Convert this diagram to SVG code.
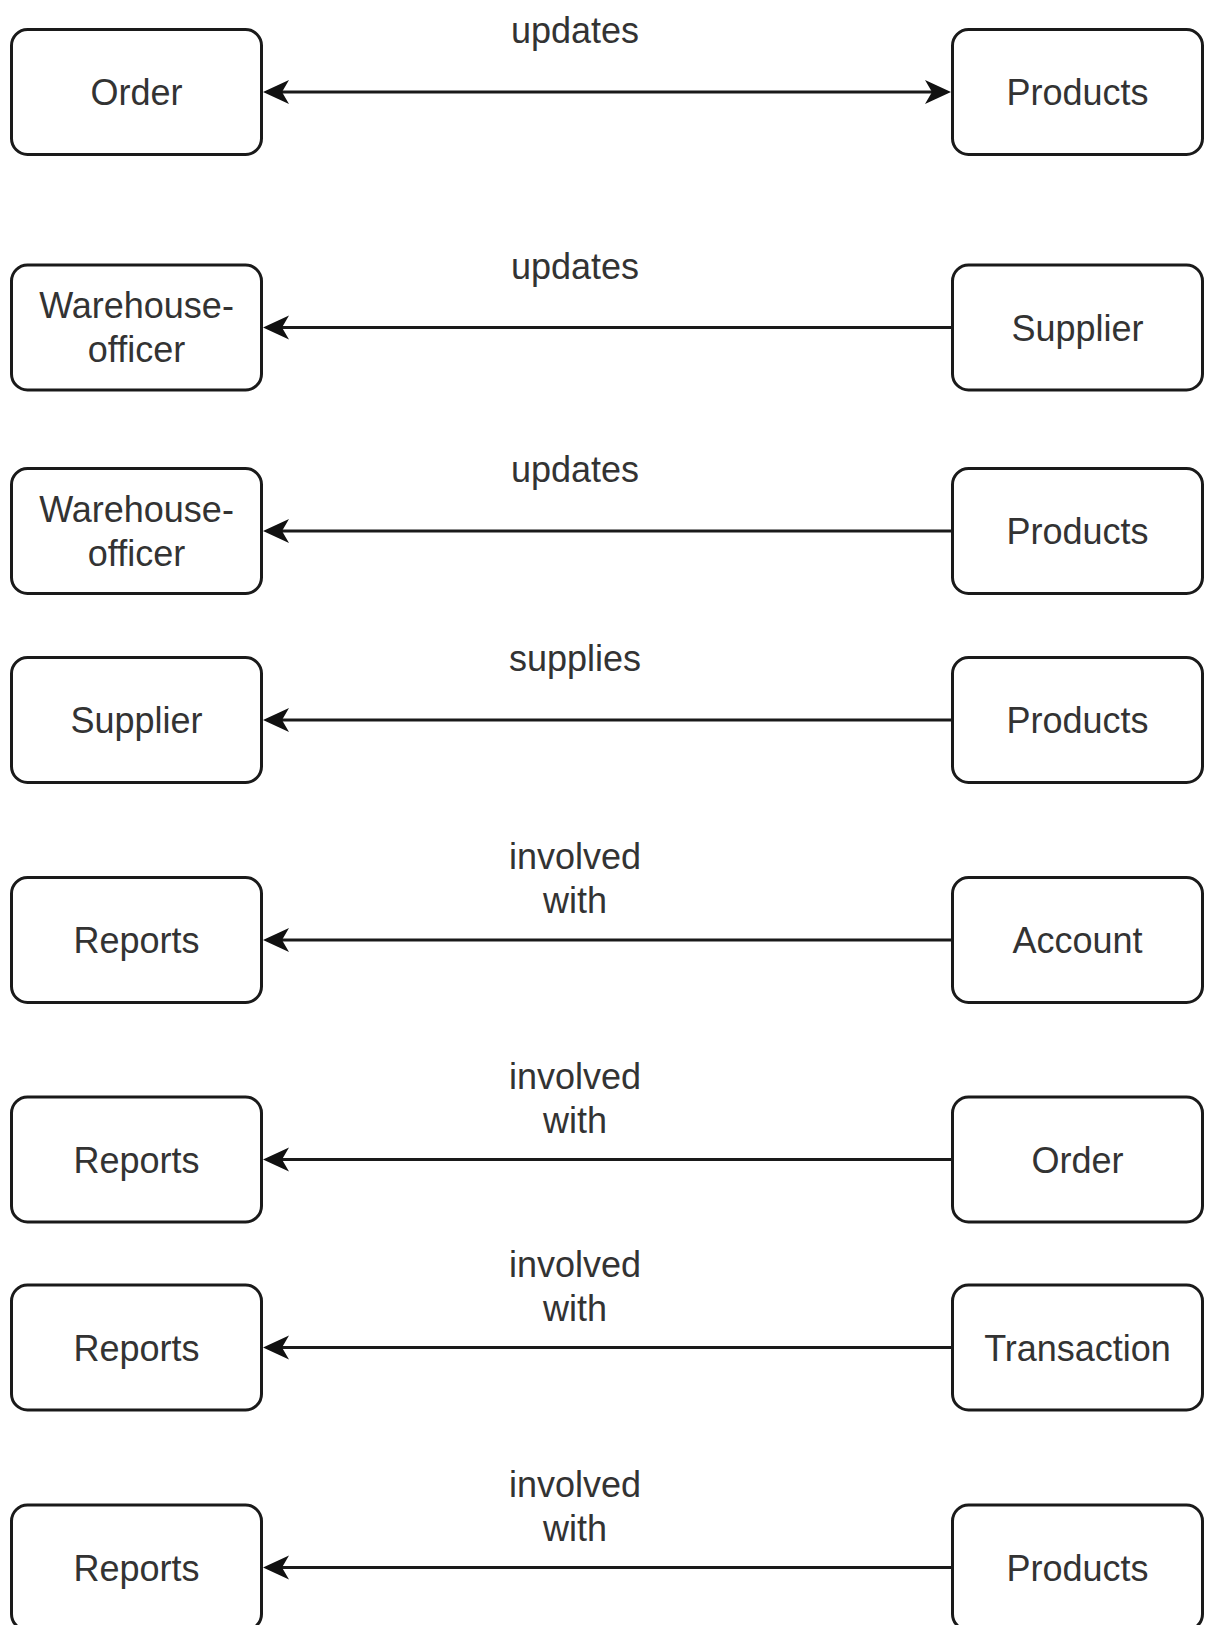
<svg xmlns="http://www.w3.org/2000/svg" width="1205" height="1625" viewBox="0 0 1205 1625">
  <style>
    .box { fill: #ffffff; stroke: #1a1a1a; stroke-width: 3; }
    .txt { font-family: "Liberation Sans", Arial, sans-serif; font-size: 36px; fill: #333333; text-anchor: middle; }
    .edge { fill: none; stroke: #1a1a1a; stroke-width: 3; }
  </style>
  <defs>
    <!-- classic notched arrowhead; reference point is the notch, tip 19px ahead -->
    <marker id="arrow" markerUnits="userSpaceOnUse" viewBox="-8 -13 28 26" refX="0" refY="0" markerWidth="28" markerHeight="26" orient="auto-start-reverse">
      <path d="M19,0 L-7,-12 L0,0 L-7,12 Z" fill="#111111"/>
    </marker>
  </defs>
  <rect width="1205" height="1625" fill="#ffffff"/>

  <!-- connectors -->
  <g id="connectors">
    <g id="e1">
      <line class="edge" x1="282" y1="92" x2="932" y2="92" marker-start="url(#arrow)" marker-end="url(#arrow)"/>
      <text class="txt" x="575" y="43">updates</text>
    </g>
    <g id="e2">
      <line class="edge" x1="951" y1="327.5" x2="282" y2="327.5" marker-end="url(#arrow)"/>
      <text class="txt" x="575" y="278.5">updates</text>
    </g>
    <g id="e3">
      <line class="edge" x1="951" y1="531" x2="282" y2="531" marker-end="url(#arrow)"/>
      <text class="txt" x="575" y="482">updates</text>
    </g>
    <g id="e4">
      <line class="edge" x1="951" y1="720" x2="282" y2="720" marker-end="url(#arrow)"/>
      <text class="txt" x="575" y="671">supplies</text>
    </g>
    <g id="e5">
      <line class="edge" x1="951" y1="940" x2="282" y2="940" marker-end="url(#arrow)"/>
      <text class="txt" x="575" y="869">involved</text>
      <text class="txt" x="575" y="913">with</text>
    </g>
    <g id="e6">
      <line class="edge" x1="951" y1="1159.5" x2="282" y2="1159.5" marker-end="url(#arrow)"/>
      <text class="txt" x="575" y="1088.5">involved</text>
      <text class="txt" x="575" y="1132.5">with</text>
    </g>
    <g id="e7">
      <line class="edge" x1="951" y1="1347.5" x2="282" y2="1347.5" marker-end="url(#arrow)"/>
      <text class="txt" x="575" y="1276.5">involved</text>
      <text class="txt" x="575" y="1320.5">with</text>
    </g>
    <g id="e8">
      <line class="edge" x1="951" y1="1567.5" x2="282" y2="1567.5" marker-end="url(#arrow)"/>
      <text class="txt" x="575" y="1496.5">involved</text>
      <text class="txt" x="575" y="1540.5">with</text>
    </g>
  </g>

  <!-- left column -->
  <g id="order-left">
    <rect class="box" x="11.5" y="29.5" width="250" height="125" rx="16"/>
    <text class="txt" x="136.5" y="105">Order</text>
  </g>
  <g id="warehouse-officer-1">
    <rect class="box" x="11.5" y="265" width="250" height="125" rx="16"/>
    <text class="txt" x="136.5" y="318">Warehouse-</text>
    <text class="txt" x="136.5" y="362">officer</text>
  </g>
  <g id="warehouse-officer-2">
    <rect class="box" x="11.5" y="468.5" width="250" height="125" rx="16"/>
    <text class="txt" x="136.5" y="521.5">Warehouse-</text>
    <text class="txt" x="136.5" y="565.5">officer</text>
  </g>
  <g id="supplier-left">
    <rect class="box" x="11.5" y="657.5" width="250" height="125" rx="16"/>
    <text class="txt" x="136.5" y="733">Supplier</text>
  </g>
  <g id="reports-1">
    <rect class="box" x="11.5" y="877.5" width="250" height="125" rx="16"/>
    <text class="txt" x="136.5" y="953">Reports</text>
  </g>
  <g id="reports-2">
    <rect class="box" x="11.5" y="1097" width="250" height="125" rx="16"/>
    <text class="txt" x="136.5" y="1172.5">Reports</text>
  </g>
  <g id="reports-3">
    <rect class="box" x="11.5" y="1285" width="250" height="125" rx="16"/>
    <text class="txt" x="136.5" y="1360.5">Reports</text>
  </g>
  <g id="reports-4">
    <rect class="box" x="11.5" y="1505" width="250" height="125" rx="16"/>
    <text class="txt" x="136.5" y="1580.5">Reports</text>
  </g>

  <!-- right column -->
  <g id="products-1">
    <rect class="box" x="952.5" y="29.5" width="250" height="125" rx="16"/>
    <text class="txt" x="1077.5" y="105">Products</text>
  </g>
  <g id="supplier-right">
    <rect class="box" x="952.5" y="265" width="250" height="125" rx="16"/>
    <text class="txt" x="1077.5" y="340.5">Supplier</text>
  </g>
  <g id="products-2">
    <rect class="box" x="952.5" y="468.5" width="250" height="125" rx="16"/>
    <text class="txt" x="1077.5" y="544">Products</text>
  </g>
  <g id="products-3">
    <rect class="box" x="952.5" y="657.5" width="250" height="125" rx="16"/>
    <text class="txt" x="1077.5" y="733">Products</text>
  </g>
  <g id="account">
    <rect class="box" x="952.5" y="877.5" width="250" height="125" rx="16"/>
    <text class="txt" x="1077.5" y="953">Account</text>
  </g>
  <g id="order-right">
    <rect class="box" x="952.5" y="1097" width="250" height="125" rx="16"/>
    <text class="txt" x="1077.5" y="1172.5">Order</text>
  </g>
  <g id="transaction">
    <rect class="box" x="952.5" y="1285" width="250" height="125" rx="16"/>
    <text class="txt" x="1077.5" y="1360.5">Transaction</text>
  </g>
  <g id="products-4">
    <rect class="box" x="952.5" y="1505" width="250" height="125" rx="16"/>
    <text class="txt" x="1077.5" y="1580.5">Products</text>
  </g>
</svg>
